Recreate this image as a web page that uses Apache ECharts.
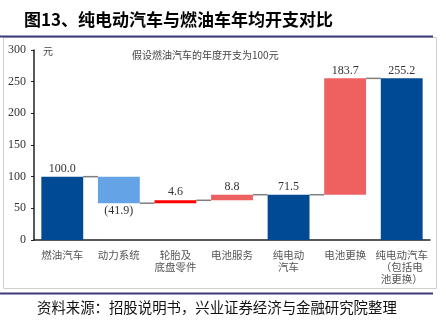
<!DOCTYPE html>
<html><head><meta charset="utf-8">
<script src="https://cdn.jsdelivr.net/npm/echarts@6/dist/echarts.min.js"></script>
<style>html,body{margin:0;padding:0;background:#fff}#c{width:446px;height:323px}</style>
</head><body><div id="c"></div>
<script>
var categories = ['燃油汽车', '动力系统', '轮胎及\n底盘零件', '电池服务', '纯电动\n汽车', '电池更换', '纯电动汽车\n（包括电\n池更换）'];
var values = [100.0, -41.9, 4.6, 8.8, 71.5, 183.7, 255.2];
var kinds = ['total', 'delta', 'delta', 'delta', 'total', 'delta', 'total'];
var yTicks = [0, 50, 100, 150, 200, 250, 300];
var titleText = '图13、纯电动汽车与燃油车年均开支对比';
var noteText = '假设燃油汽车的年度开支为100元';
var unitText = '元';
var sourceText = '资料来源：招股说明书，兴业证券经济与金融研究院整理';

var barColors = ['#004a93', '#63a3e6', '#ff0000', '#ef6161', '#004a93', '#ef6161', '#004a93'];

// compute running levels for the waterfall
var base = [], shown = [], levels = [];
var run = 0;
for (var i = 0; i < values.length; i++) {
  var v = values[i];
  if (kinds[i] === 'total') { base.push(0); shown.push(v); run = v; }
  else if (v >= 0) { base.push(run); shown.push(v); run = +(run + v).toFixed(1); }
  else { run = +(run + v).toFixed(1); base.push(run); shown.push(-v); }
  levels.push(run);
}
var connectors = [];
for (var j = 0; j < values.length - 1; j++) connectors.push([j, levels[j]]);

var BAR_RATIO = 0.74;
var chart = echarts.init(document.getElementById('c'));
var serif = '"Liberation Serif", "Times New Roman", serif';
var cjk = '"Noto Sans CJK SC", sans-serif';
chart.setOption({
  animation: false,
  graphic: [
    { type: 'rect', shape: { x: 3.5, y: 37.5, width: 433, height: 251 }, style: { fill: 'none', stroke: '#cfcfcf', lineWidth: 1 }, z: 0 },
    { type: 'line', shape: { x1: 0, y1: 36.5, x2: 433, y2: 36.5 }, style: { stroke: '#3c3c78', lineWidth: 2 } },
    { type: 'line', shape: { x1: 0, y1: 293.5, x2: 433, y2: 293.5 }, style: { stroke: '#3c3c78', lineWidth: 2 } },
    { type: 'text', left: 24, top: 11, style: { text: titleText, font: 'bold 17px ' + cjk, fill: '#000' } },
    { type: 'text', left: 37, top: 300, style: { text: sourceText, font: '14.4px ' + cjk, fill: '#111' } },
    { type: 'text', left: 43, top: 46, style: { text: unitText, font: '10px ' + cjk, fill: '#444' } },
    { type: 'text', left: 132, top: 50, style: { text: noteText, font: '10px ' + cjk, fill: '#444' } }
  ],
  grid: { left: 34, right: 16, top: 50, bottom: 83 },
  xAxis: {
    type: 'category', data: categories,
    axisLine: { lineStyle: { color: '#222', width: 1.5 } },
    axisTick: { show: false },
    axisLabel: { interval: 0, color: '#555', fontSize: 10.5, fontFamily: cjk, lineHeight: 12, margin: 9 }
  },
  yAxis: {
    type: 'value', min: 0, max: 300, interval: 50,
    splitLine: { show: false },
    axisLine: { show: true, lineStyle: { color: '#222', width: 1.5 } },
    axisTick: { show: true, length: 3, lineStyle: { color: '#222' } },
    axisLabel: { color: '#333', fontSize: 12, fontFamily: serif, margin: 8 }
  },
  series: [
    { type: 'bar', stack: 'w', data: base, barWidth: (BAR_RATIO * 100) + '%', itemStyle: { color: 'transparent' }, silent: true },
    { type: 'bar', stack: 'w', barWidth: (BAR_RATIO * 100) + '%',
      data: shown.map(function (v, k) {
        return {
          value: v,
          itemStyle: { color: barColors[k] },
          label: {
            show: true,
            position: values[k] < 0 ? 'bottom' : 'top',
            distance: 2,
            formatter: values[k] < 0 ? '(' + Math.abs(values[k]).toFixed(1) + ')' : values[k].toFixed(1),
            color: '#333', fontSize: 12, fontFamily: serif
          }
        };
      })
    },
    { type: 'custom', data: connectors, z: 1,
      renderItem: function (params, api) {
        var idx = api.value(0), lvl = api.value(1);
        var p1 = api.coord([idx, lvl]), p2 = api.coord([idx + 1, lvl]);
        var bw = api.size([1, 0])[0] * BAR_RATIO;
        return { type: 'line', shape: { x1: p1[0] + bw / 2, y1: p1[1], x2: p2[0] - bw / 2, y2: p2[1] },
                 style: { stroke: '#7f7f7f', lineWidth: 1.5 } };
      }
    }
  ]
});
</script></body></html>
